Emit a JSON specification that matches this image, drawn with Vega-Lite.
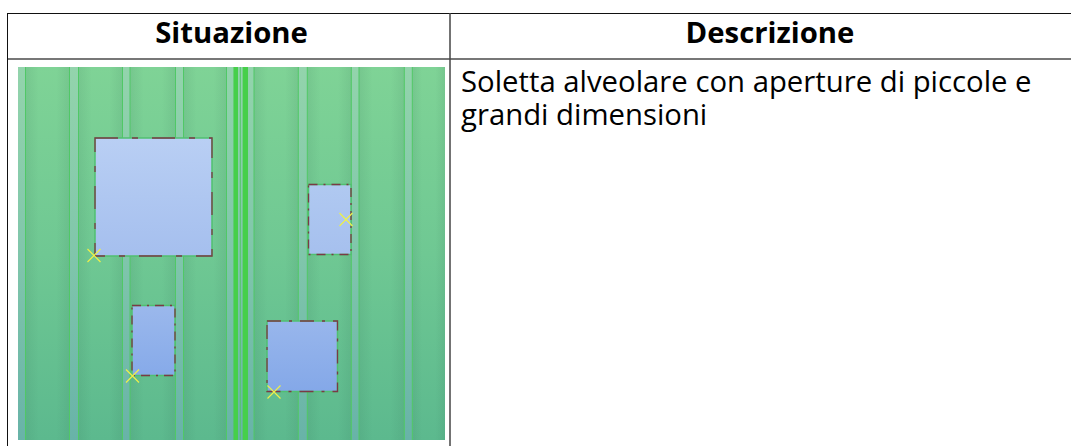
{"$schema":"https://vega.github.io/schema/vega-lite/v6.json","width":1071,"height":446,"autosize":"none","padding":0,"background":"white","config":{"view":{"stroke":null}},
"datasets":{
"slab":[{"x":18,"x2":445,"y":67,"y2":440}],
"panels":[{"x":25.5,"x2":69.5,"y":67,"y2":440},{"x":78.5,"x2":122.5,"y":67,"y2":440},{"x":130,"x2":175.5,"y":67,"y2":440},{"x":183.5,"x2":226.5,"y":67,"y2":440},{"x":254,"x2":298.3,"y":67,"y2":440},{"x":307.3,"x2":351.3,"y":67,"y2":440},{"x":359,"x2":404.3,"y":67,"y2":440},{"x":412.3,"x2":445,"y":67,"y2":440}],
"joints":[{"x":18,"x2":25.5,"y":67,"y2":440},{"x":69.5,"x2":78.5,"y":67,"y2":440},{"x":122.5,"x2":130,"y":67,"y2":440},{"x":175.5,"x2":183.5,"y":67,"y2":440},{"x":226.5,"x2":233.5,"y":67,"y2":440},{"x":238,"x2":242.7,"y":67,"y2":440},{"x":248,"x2":254,"y":67,"y2":440},{"x":298.3,"x2":307.3,"y":67,"y2":440},{"x":351.3,"x2":359,"y":67,"y2":440},{"x":404.3,"x2":412.3,"y":67,"y2":440}],
"bright":[{"x":233.5,"x2":238,"y":67,"y2":440},{"x":242.7,"x2":248,"y":67,"y2":440}],
"edges":[{"x":25.5,"y":67,"y2":440},{"x":69.5,"y":67,"y2":440},{"x":78.5,"y":67,"y2":440},{"x":122.5,"y":67,"y2":440},{"x":130,"y":67,"y2":440},{"x":175.5,"y":67,"y2":440},{"x":183.5,"y":67,"y2":440},{"x":226.5,"y":67,"y2":440},{"x":240.3,"y":67,"y2":440},{"x":254,"y":67,"y2":440},{"x":298.3,"y":67,"y2":440},{"x":307.3,"y":67,"y2":440},{"x":351.3,"y":67,"y2":440},{"x":359,"y":67,"y2":440},{"x":404.3,"y":67,"y2":440},{"x":412.3,"y":67,"y2":440}],
"a":[{"x":95,"x2":212,"y":138,"y2":256}],
"b":[{"x":308.5,"x2":351,"y":184.5,"y2":254.5}],
"c":[{"x":132,"x2":175,"y":305.5,"y2":375.5}],
"d":[{"x":267,"x2":337.5,"y":321,"y2":391.5}],
"marks":[{"x":94,"y":255.5},{"x":346,"y":219.5},{"x":132.5,"y":376},{"x":274,"y":392}],
"hlines":[{"x":7,"x2":1071,"y":13.5,"k":"top"},{"x":8,"x2":1071,"y":59,"k":"head"}],
"vlines":[{"x":7.5,"y":13,"y2":446,"k":"left"},{"x":450,"y":13,"y2":446,"k":"mid"}],
"heads":[{"x":231.5,"y":43,"t":"Situazione"},{"x":770,"y":43,"t":"Descrizione"}],
"body":[{"x":461,"y":91.5,"t":"Soletta alveolare con aperture di piccole e"},{"x":461,"y":124.5,"t":"grandi dimensioni"}]
},
"encoding":{"x":{"field":"x","type":"quantitative","axis":null,"scale":{"domain":[0,1071],"nice":false,"zero":false}},"y":{"field":"y","type":"quantitative","axis":null,"scale":{"domain":[0,446],"reverse":true,"nice":false,"zero":false}}},
"layer":[
{"data":{"name":"slab"},"mark":{"type":"rect","fill":{"x1":0,"y1":0,"x2":0,"y2":1,"gradient":"linear","stops":[{"offset":0,"color":"#7fd396"},{"offset":0.5,"color":"#6fc893"},{"offset":1,"color":"#5cb98e"}]}},"encoding":{"x2":{"field":"x2"},"y2":{"field":"y2"}}},
{"data":{"name":"panels"},"mark":{"type":"rect","fill":{"x1":0,"y1":0,"x2":1,"y2":0,"gradient":"linear","stops":[{"offset":0,"color":"rgba(40,90,70,0.10)"},{"offset":0.3,"color":"rgba(40,90,70,0)"},{"offset":0.7,"color":"rgba(40,90,70,0)"},{"offset":1,"color":"rgba(40,90,70,0.10)"}]}},"encoding":{"x2":{"field":"x2"},"y2":{"field":"y2"}}},
{"data":{"name":"joints"},"mark":{"type":"rect","fill":{"x1":0,"y1":0,"x2":0,"y2":1,"gradient":"linear","stops":[{"offset":0,"color":"#93d4ac"},{"offset":0.5,"color":"#80c6ab"},{"offset":1,"color":"#68b3a8"}]}},"encoding":{"x2":{"field":"x2"},"y2":{"field":"y2"}}},
{"data":{"name":"bright"},"mark":{"type":"rect","fill":"#46cf4a"},"encoding":{"x2":{"field":"x2"},"y2":{"field":"y2"}}},
{"data":{"name":"edges"},"mark":{"type":"rule","stroke":"#50c866","strokeWidth":1},"encoding":{"y2":{"field":"y2"}}},
{"data":{"name":"a"},"mark":{"type":"rect","stroke":"#50c070","strokeWidth":1.5,"fill":{"x1":0,"y1":0,"x2":0,"y2":1,"gradient":"linear","stops":[{"offset":0,"color":"#b9cff4"},{"offset":1,"color":"#a5bfee"}]}},"encoding":{"x2":{"field":"x2"},"y2":{"field":"y2"}}},
{"data":{"name":"b"},"mark":{"type":"rect","stroke":"#50c070","strokeWidth":1.5,"fill":{"x1":0,"y1":0,"x2":0,"y2":1,"gradient":"linear","stops":[{"offset":0,"color":"#b0c9f1"},{"offset":1,"color":"#a6c0ee"}]}},"encoding":{"x2":{"field":"x2"},"y2":{"field":"y2"}}},
{"data":{"name":"c"},"mark":{"type":"rect","stroke":"#50c070","strokeWidth":1.5,"fill":{"x1":0,"y1":0,"x2":0,"y2":1,"gradient":"linear","stops":[{"offset":0,"color":"#9bb8ec"},{"offset":1,"color":"#86aae9"}]}},"encoding":{"x2":{"field":"x2"},"y2":{"field":"y2"}}},
{"data":{"name":"d"},"mark":{"type":"rect","stroke":"#50c070","strokeWidth":1.5,"fill":{"x1":0,"y1":0,"x2":0,"y2":1,"gradient":"linear","stops":[{"offset":0,"color":"#98b6ec"},{"offset":1,"color":"#84a8e8"}]}},"encoding":{"x2":{"field":"x2"},"y2":{"field":"y2"}}},
{"data":{"name":"a"},"mark":{"type":"rect","fillOpacity":0,"stroke":"#7a3a45","strokeWidth":1.3,"strokeDash":[23,14,6,14]},"encoding":{"x2":{"field":"x2"},"y2":{"field":"y2"}}},
{"data":{"name":"b"},"mark":{"type":"rect","fillOpacity":0,"stroke":"#7a3a45","strokeWidth":1.3,"strokeDash":[9,6,2,6]},"encoding":{"x2":{"field":"x2"},"y2":{"field":"y2"}}},
{"data":{"name":"c"},"mark":{"type":"rect","fillOpacity":0,"stroke":"#7a3a45","strokeWidth":1.3,"strokeDash":[9,6,2,6]},"encoding":{"x2":{"field":"x2"},"y2":{"field":"y2"}}},
{"data":{"name":"d"},"mark":{"type":"rect","fillOpacity":0,"stroke":"#7a3a45","strokeWidth":1.3,"strokeDash":[14,8,3,8]},"encoding":{"x2":{"field":"x2"},"y2":{"field":"y2"}}},
{"data":{"name":"marks"},"mark":{"type":"point","shape":"M-1,-1L1,1M-1,1L1,-1","size":169,"filled":false,"stroke":"#eef04a","strokeWidth":1.2,"opacity":1}},
{"data":{"name":"hlines"},"transform":[{"filter":"datum.k=='top'"}],"mark":{"type":"rule","stroke":"#111111","strokeWidth":1},"encoding":{"x2":{"field":"x2"}}},
{"data":{"name":"hlines"},"transform":[{"filter":"datum.k=='head'"}],"mark":{"type":"rule","stroke":"#777777","strokeWidth":2},"encoding":{"x2":{"field":"x2"}}},
{"data":{"name":"vlines"},"transform":[{"filter":"datum.k=='left'"}],"mark":{"type":"rule","stroke":"#111111","strokeWidth":1},"encoding":{"y2":{"field":"y2"}}},
{"data":{"name":"vlines"},"transform":[{"filter":"datum.k=='mid'"}],"mark":{"type":"rule","stroke":"#444444","strokeWidth":1.5},"encoding":{"y2":{"field":"y2"}}},
{"data":{"name":"heads"},"mark":{"type":"text","font":"Open Sans","fontWeight":"bold","fontSize":29.3,"align":"center","baseline":"alphabetic","fill":"#000000"},"encoding":{"text":{"field":"t"}}},
{"data":{"name":"body"},"mark":{"type":"text","font":"Open Sans","fontSize":29.3,"align":"left","baseline":"alphabetic","fill":"#000000"},"encoding":{"text":{"field":"t"}}}
]}
